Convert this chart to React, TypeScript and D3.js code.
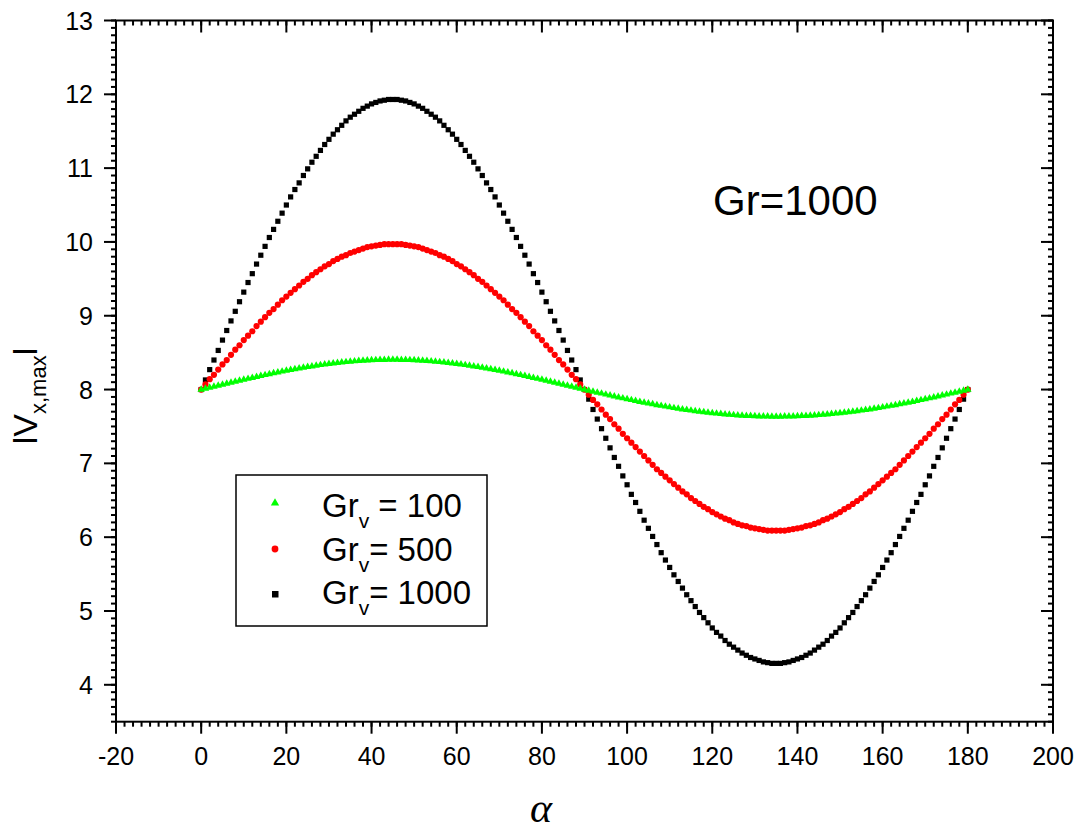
import React from 'react';
import * as d3 from 'd3';

// x values: alpha in degrees, one sample per degree
const alpha: number[] = d3.range(0, 181);

const grv100: number[] = [
  8.000, 8.013, 8.027, 8.040, 8.054, 8.067, 8.081, 8.094, 8.108, 8.121, 8.134, 8.147, 8.160, 8.173, 8.185, 8.198, 8.210, 8.222, 8.233, 8.245, 8.256, 8.267, 8.277, 8.287, 8.297, 8.307, 8.316, 8.325, 8.333, 8.341, 8.348, 8.356, 8.362, 8.368, 8.374, 8.380, 8.384, 8.389, 8.392, 8.396, 8.399, 8.401, 8.403, 8.404, 8.405, 8.405,
  8.405, 8.404, 8.403, 8.401, 8.399, 8.396, 8.392, 8.389, 8.384, 8.380, 8.374, 8.368, 8.362, 8.356, 8.348, 8.341, 8.333, 8.325, 8.316, 8.307, 8.297, 8.287, 8.277, 8.267, 8.256, 8.245, 8.233, 8.222, 8.210, 8.198, 8.185, 8.173, 8.160, 8.147, 8.134, 8.121, 8.108, 8.094, 8.081, 8.067, 8.054, 8.040, 8.027, 8.013, 8.000,
  7.987, 7.973, 7.960, 7.947, 7.934, 7.921, 7.908, 7.895, 7.883, 7.871, 7.859, 7.847, 7.835, 7.824, 7.813, 7.802, 7.791, 7.781, 7.771, 7.761, 7.751, 7.742, 7.733, 7.725, 7.717, 7.709, 7.702, 7.695, 7.688, 7.682, 7.676, 7.670, 7.665, 7.660, 7.656, 7.652, 7.648, 7.645, 7.643, 7.640, 7.638, 7.637, 7.636, 7.635, 7.635,
  7.635, 7.636, 7.637, 7.638, 7.640, 7.643, 7.645, 7.648, 7.652, 7.656, 7.660, 7.665, 7.670, 7.676, 7.682, 7.688, 7.695, 7.702, 7.709, 7.717, 7.725, 7.733, 7.742, 7.751, 7.761, 7.771, 7.781, 7.791, 7.802, 7.813, 7.824, 7.835, 7.847, 7.859, 7.871, 7.883, 7.895, 7.908, 7.921, 7.934, 7.947, 7.960, 7.973, 7.987, 8.000,
];

const grv500: number[] = [
  8.00, 8.07, 8.14, 8.20, 8.27, 8.34, 8.40, 8.47, 8.54, 8.60, 8.67, 8.73, 8.79, 8.86, 8.92, 8.98, 9.04, 9.09, 9.15, 9.21, 9.26, 9.31, 9.36, 9.41, 9.46, 9.50, 9.55, 9.59, 9.63, 9.67, 9.70, 9.74, 9.77, 9.80, 9.82, 9.85, 9.87, 9.89, 9.91, 9.93, 9.94, 9.95, 9.96, 9.97, 9.97, 9.97,
  9.97, 9.97, 9.96, 9.95, 9.94, 9.93, 9.91, 9.89, 9.87, 9.85, 9.82, 9.80, 9.77, 9.74, 9.70, 9.67, 9.63, 9.59, 9.55, 9.50, 9.46, 9.41, 9.36, 9.31, 9.26, 9.21, 9.15, 9.09, 9.04, 8.98, 8.92, 8.86, 8.79, 8.73, 8.67, 8.60, 8.54, 8.47, 8.40, 8.34, 8.27, 8.20, 8.14, 8.07, 8.00,
  7.93, 7.86, 7.80, 7.73, 7.66, 7.60, 7.53, 7.47, 7.40, 7.34, 7.28, 7.22, 7.16, 7.10, 7.04, 6.98, 6.92, 6.87, 6.82, 6.77, 6.72, 6.67, 6.62, 6.58, 6.53, 6.49, 6.45, 6.41, 6.38, 6.34, 6.31, 6.28, 6.25, 6.23, 6.20, 6.18, 6.16, 6.15, 6.13, 6.12, 6.11, 6.10, 6.09, 6.09, 6.09,
  6.09, 6.09, 6.10, 6.11, 6.12, 6.13, 6.15, 6.16, 6.18, 6.20, 6.23, 6.25, 6.28, 6.31, 6.34, 6.38, 6.41, 6.45, 6.49, 6.53, 6.58, 6.62, 6.67, 6.72, 6.77, 6.82, 6.87, 6.92, 6.98, 7.04, 7.10, 7.16, 7.22, 7.28, 7.34, 7.40, 7.47, 7.53, 7.60, 7.66, 7.73, 7.80, 7.86, 7.93, 8.00,
];

const grv1000: number[] = [
  8.00, 8.13, 8.27, 8.40, 8.53, 8.67, 8.80, 8.93, 9.06, 9.19, 9.32, 9.45, 9.57, 9.70, 9.82, 9.94, 10.06, 10.17, 10.28, 10.39, 10.50, 10.61, 10.71, 10.80, 10.90, 10.99, 11.08, 11.16, 11.24, 11.32, 11.39, 11.46, 11.52, 11.58, 11.64, 11.69, 11.73, 11.77, 11.81, 11.84, 11.87, 11.89, 11.91, 11.92, 11.93, 11.93,
  11.93, 11.92, 11.91, 11.89, 11.87, 11.84, 11.81, 11.77, 11.73, 11.69, 11.64, 11.58, 11.52, 11.46, 11.39, 11.32, 11.24, 11.16, 11.08, 10.99, 10.90, 10.80, 10.71, 10.61, 10.50, 10.39, 10.28, 10.17, 10.06, 9.94, 9.82, 9.70, 9.57, 9.45, 9.32, 9.19, 9.06, 8.93, 8.80, 8.67, 8.53, 8.40, 8.27, 8.13, 8.00,
  7.87, 7.73, 7.60, 7.47, 7.34, 7.21, 7.08, 6.96, 6.83, 6.71, 6.58, 6.47, 6.35, 6.23, 6.12, 6.01, 5.90, 5.79, 5.69, 5.59, 5.49, 5.40, 5.31, 5.22, 5.14, 5.06, 4.98, 4.91, 4.84, 4.77, 4.71, 4.66, 4.60, 4.55, 4.51, 4.47, 4.43, 4.40, 4.37, 4.35, 4.33, 4.31, 4.30, 4.29, 4.29,
  4.29, 4.30, 4.31, 4.33, 4.35, 4.37, 4.40, 4.43, 4.47, 4.51, 4.55, 4.60, 4.66, 4.71, 4.77, 4.84, 4.91, 4.98, 5.06, 5.14, 5.22, 5.31, 5.40, 5.49, 5.59, 5.69, 5.79, 5.90, 6.01, 6.12, 6.23, 6.35, 6.47, 6.58, 6.71, 6.83, 6.96, 7.08, 7.21, 7.34, 7.47, 7.60, 7.73, 7.87, 8.00,
];

const xTickValues: number[] = [-20, 0, 20, 40, 60, 80, 100, 120, 140, 160, 180, 200];
const yTickValues: number[] = [4, 5, 6, 7, 8, 9, 10, 11, 12, 13];
const legendNumbers: string[] = [' = 100', '= 500', '= 1000'];
const annotation = 'Gr=1000';

const W = 1083;
const H = 831;
const FONT = '"Liberation Sans", Arial, sans-serif';

export default function App() {
  const x = d3.scaleLinear().domain([-20, 200]).range([116, 1053]);
  const y = d3.scaleLinear().domain([3.5, 13]).range([721.7, 20.5]);
  const [x0, x1] = x.range();
  const [yb, yt] = y.range();

  const xMinor = d3.range(-20, 200.001, 2);
  const yMinor = d3.range(35, 131).map((v) => v / 10);

  const tri = d3.symbol(d3.symbolTriangle, 24)() as string;
  const triLeg = d3.symbol(d3.symbolTriangle, 30)() as string;

  const ax = { stroke: '#000', strokeWidth: 2 };

  return (
    <svg width={W} height={H} style={{ position: 'absolute', left: 0, top: 0, background: '#fff' }} fontFamily={FONT}>
      <rect x={0} y={0} width={W} height={H} fill="#fff" />

      {/* series: black, red, green */}
      <g>
        {alpha.map((a, i) => (
          <rect key={'b' + i} x={x(a) - 2.6} y={y(grv1000[i]) - 2.6} width={5.2} height={5.2} fill="#000" />
        ))}
      </g>
      <g>
        {alpha.map((a, i) => (
          <circle key={'r' + i} cx={x(a)} cy={y(grv500[i])} r={3.1} fill="#ff0000" />
        ))}
      </g>
      <g>
        {alpha.map((a, i) => (
          <path key={'g' + i} d={tri} transform={`translate(${x(a)},${y(grv100[i])})`} fill="#00ff00" />
        ))}
      </g>

      {/* frame */}
      <rect x={x0} y={yt} width={x1 - x0} height={yb - yt} fill="none" {...ax} />

      {/* x ticks bottom (outward) and top (inward) */}
      {xMinor.map((v) => (
        <g key={'xm' + v}>
          <line x1={x(v)} x2={x(v)} y1={yb} y2={yb + 5} {...ax} />
          <line x1={x(v)} x2={x(v)} y1={yt} y2={yt + 5} {...ax} />
        </g>
      ))}
      {xTickValues.map((v) => (
        <g key={'xM' + v}>
          <line x1={x(v)} x2={x(v)} y1={yb} y2={yb + 12} {...ax} />
          <line x1={x(v)} x2={x(v)} y1={yt} y2={yt + 12} {...ax} />
          <text x={x(v)} y={765} fontSize={25} textAnchor="middle" fill="#000">{v}</text>
        </g>
      ))}

      {/* y ticks left (outward) and right (inward) */}
      {yMinor.map((v) => (
        <g key={'ym' + v}>
          <line x1={x0 - 5} x2={x0} y1={y(v)} y2={y(v)} {...ax} />
          <line x1={x1 - 5} x2={x1} y1={y(v)} y2={y(v)} {...ax} />
        </g>
      ))}
      {yTickValues.map((v) => (
        <g key={'yM' + v}>
          <line x1={x0 - 12} x2={x0} y1={y(v)} y2={y(v)} {...ax} />
          <line x1={x1 - 12} x2={x1} y1={y(v)} y2={y(v)} {...ax} />
          <text x={93} y={y(v) + 9} fontSize={25} textAnchor="end" fill="#000">{v}</text>
        </g>
      ))}

      {/* axis titles */}
      <text x={541} y={822} fontSize={42} fontStyle="italic" fontFamily='"Liberation Serif", "DejaVu Serif", serif' textAnchor="middle" fill="#000">α</text>
      <text transform="translate(37,396) rotate(-90)" fontSize={34} textAnchor="middle" fill="#000">
        <tspan>lV</tspan>
        <tspan fontSize={22} dy={9}>x,max</tspan>
        <tspan dy={-9}>l</tspan>
      </text>

      {/* annotation */}
      <text x={713} y={215} fontSize={42} fill="#000">{annotation}</text>

      {/* legend */}
      <rect x={236} y={475} width={251} height={151} fill="#fff" stroke="#000" strokeWidth={1.5} />
      <path d={triLeg} transform="translate(275,503)" fill="#00ff00" />
      <circle cx={275} cy={549} r={3.4} fill="#ff0000" />
      <rect x={272} y={591} width={6.5} height={6.5} fill="#000" />
      {legendNumbers.map((t, i) => (
        <text key={'lg' + i} x={322} y={517 + i * 43.5} fontSize={33} fill="#000">
          <tspan>Gr</tspan>
          <tspan fontSize={21} dy={11}>v</tspan>
          <tspan dy={-11}>{t}</tspan>
        </text>
      ))}
    </svg>
  );
}
